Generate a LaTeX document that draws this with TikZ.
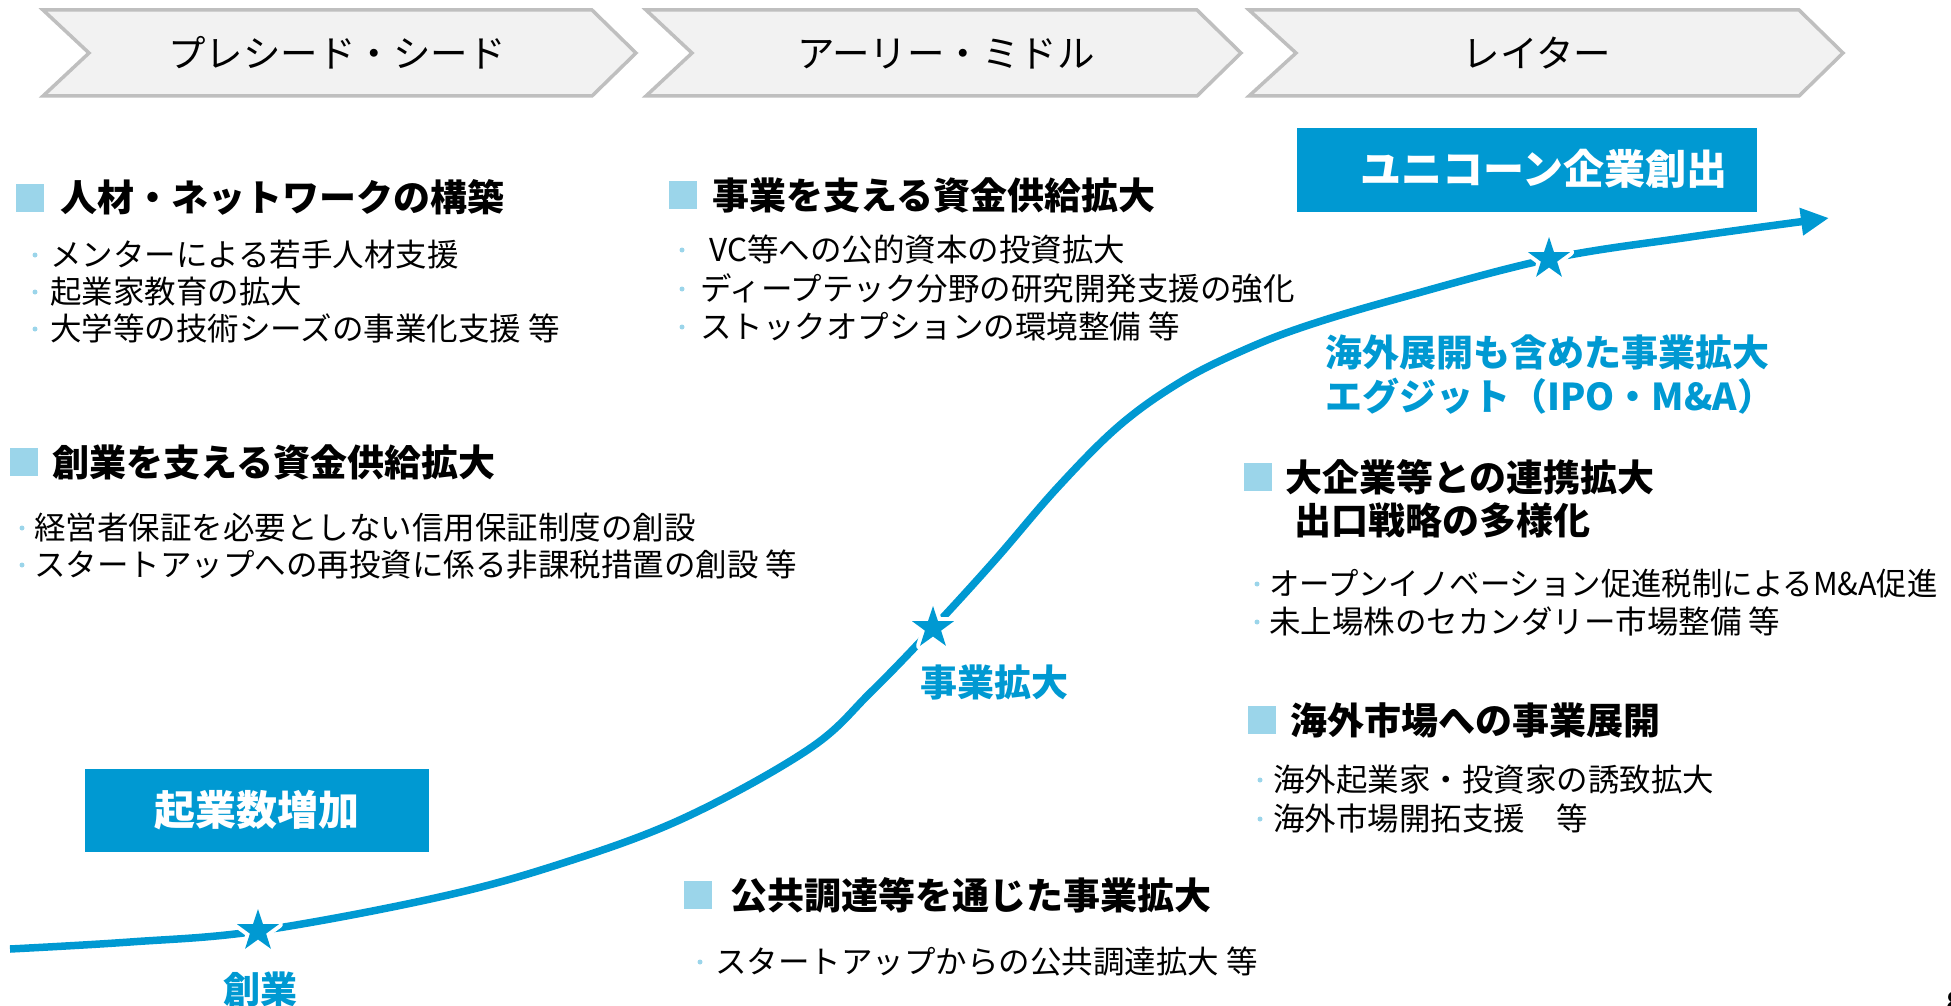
\documentclass[tikz,border=0pt]{standalone}
\usepackage{fontspec}
\usepackage{graphicx}
\newfontfamily\jp{Noto Sans CJK JP}
\usetikzlibrary{shapes.geometric, arrows.meta}
\definecolor{mainblue}{RGB}{0,153,210}
\definecolor{sqblue}{RGB}{155,213,234}
\definecolor{chevfill}{RGB}{242,242,242}
\definecolor{chevline}{RGB}{191,191,191}
\begin{document}
\begin{tikzpicture}[x=1pt,y=-1pt,
 chev/.style={fill=chevfill, draw=chevline, line width=3.5pt, line join=miter},
 chevlabel/.style={font=\jp\fontsize{37.5}{40}\selectfont, inner sep=0, text height=33pt, text depth=4.5pt},
 sq/.style={fill=sqblue, draw=none, minimum size=28pt, inner sep=0},
 head/.style={anchor=west, font=\jp\bfseries\fontsize{37}{44}\selectfont, inner sep=0, text height=32.6pt, text depth=4.4pt},
 item/.style={anchor=west, font=\jp\fontsize{31.5}{38}\selectfont, inner sep=0, text height=27.7pt, text depth=3.8pt},
 dot/.style={circle, fill=sqblue, minimum size=5pt, inner sep=0},
 bluebox/.style={fill=mainblue, draw=none, inner sep=0},
 boxtext/.style={font=\jp\bfseries\fontsize{41}{48}\selectfont, text=white, inner sep=0, text height=36pt, text depth=5pt},
 bluelabel/.style={font=\jp\bfseries\fontsize{37}{44}\selectfont, text=mainblue, inner sep=0, text height=32.6pt, text depth=4.4pt},
 curve/.style={draw=mainblue, line width=7.5pt},
 starshape/.style={fill=mainblue, preaction={draw=white, line width=8pt, line join=round}},
]
\useasboundingbox (0,0) rectangle (1951,1006);

% chevrons
\draw[chev] (43,10) -- (592,10) -- (636,53) -- (592,96) -- (43,96) -- (89,53) -- cycle;
\draw[chev] (646,10) -- (1197,10) -- (1241,53) -- (1197,96) -- (646,96) -- (692,53) -- cycle;
\draw[chev] (1249,10) -- (1799,10) -- (1843,53) -- (1799,96) -- (1249,96) -- (1296,53) -- cycle;
\node[chevlabel] (ch1) at (337,53) {プレシード・シード};
\node[chevlabel] (ch2) at (946,53) {アーリー・ミドル};
\node[chevlabel] (ch3) at (1537,53) {レイター};

% curve
\coordinate (c0) at (10,949);
\coordinate (p1) at (258,931);
\coordinate (p2) at (933,628);
\coordinate (p3) at (1549,259);
\coordinate (tip) at (1829,218);
\draw[curve, -{Triangle[length=28pt,width=26pt]}] plot[smooth, tension=0.6] coordinates {(c0) (130,942) (p1) (435,898) (560,864) (684,818) (809,749) (871,692) (p2) (995,560) (1058,487) (1120,425) (1182,381) (1244,350) (1306,326) (1400,298) (p3) (1690,237) (tip)};
\foreach \p in {p1,p2,p3}{
  \path[starshape] (\p) +(90:22pt) -- +(126:8.5pt) -- +(162:22pt) -- +(198:8.5pt) -- +(234:22pt) -- +(270:8.5pt) -- +(306:22pt) -- +(342:8.5pt) -- +(18:22pt) -- +(54:8.5pt) -- cycle;
}

% blue boxes
\node[bluebox, minimum width=460pt, minimum height=84pt] (unibox) at (1527,170) {};
\node[boxtext] (uni) at (1544,169) {ユニコーン企業創出};
\node[bluebox, minimum width=344pt, minimum height=83pt] (kibox) at (257,810.5) {};
\node[boxtext] (ki) at (257,810) {起業数増加};

% blue labels
\node[bluelabel, anchor=west] (bl1) at (1325,352) {海外展開も含めた事業拡大};
\node[bluelabel, anchor=west] (bl2) at (1325,396) {エグジット（IPO・M\&A）};
\node[bluelabel] (bl3) at (994,682) {事業拡大};
\node[bluelabel] (bl4) at (260,989) {創業};

% left top block
\node[sq] (sqA) at (29.5,197.5) {};
\node[head] (hA) at (60,197) {人材・ネットワークの構築};
\node[dot] (dA1) at (35,255) {}; \node[item] (iA1) at (50,255) {メンターによる若手人材支援};
\node[dot] (dA2) at (35,292) {}; \node[item] (iA2) at (50,292) {起業家教育の拡大};
\node[dot] (dA3) at (35,329) {}; \node[item] (iA3) at (50,329) {大学等の技術シーズの事業化支援 等};

% left middle block
\node[sq] (sqB) at (23.5,462) {};
\node[head] (hB) at (52,462) {創業を支える資金供給拡大};
\node[dot] (dB1) at (22,528) {}; \node[item] (iB1) at (34,528) {経営者保証を必要としない信用保証制度の創設};
\node[dot] (dB2) at (22,565) {}; \node[item] (iB2) at (34,565) {スタートアップへの再投資に係る非課税措置の創設 等};

% middle top block
\node[sq] (sqC) at (683,195) {};
\node[head] (hC) at (712,195) {事業を支える資金供給拡大};
\node[dot] (dC1) at (682,250) {}; \node[item] (iC1) at (709,250) {VC等への公的資本の投資拡大};
\node[dot] (dC2) at (682,289) {}; \node[item] (iC2) at (700,289) {ディープテック分野の研究開発支援の強化};
\node[dot] (dC3) at (682,327) {}; \node[item] (iC3) at (700,327) {ストックオプションの環境整備 等};

% right middle block
\node[sq] (sqD) at (1258,477) {};
\node[head] (hD1) at (1285,477) {大企業等との連携拡大};
\node[head] (hD2) at (1294,520) {出口戦略の多様化};
\node[dot] (dD1) at (1257,584) {}; \node[item] (iD1) at (1269,584) {\scalebox{0.965}[1]{オープンイノベーション促進税制によるM\&A促進}};
\node[dot] (dD2) at (1257,622) {}; \node[item] (iD2) at (1269,622) {未上場株のセカンダリー市場整備 等};

% right lower block
\node[sq] (sqE) at (1261.5,720) {};
\node[head] (hE) at (1290,720) {海外市場への事業展開};
\node[dot] (dE1) at (1260,780) {}; \node[item] (iE1) at (1273,780) {海外起業家・投資家の誘致拡大};
\node[dot] (dE2) at (1260,819) {}; \node[item] (iE2) at (1273,819) {海外市場開拓支援　等};

% bottom middle block
\node[sq] (sqF) at (698,895) {};
\node[head] (hF) at (730,895) {公共調達等を通じた事業拡大};
\node[dot] (dF1) at (700,962) {}; \node[item] (iF1) at (715,962) {スタートアップからの公共調達拡大 等};

% page number fragment
\node[anchor=west, font=\jp\bfseries\fontsize{28}{30}\selectfont, inner sep=0] (pg) at (1946,1002) {8};
\end{tikzpicture}
\end{document}
